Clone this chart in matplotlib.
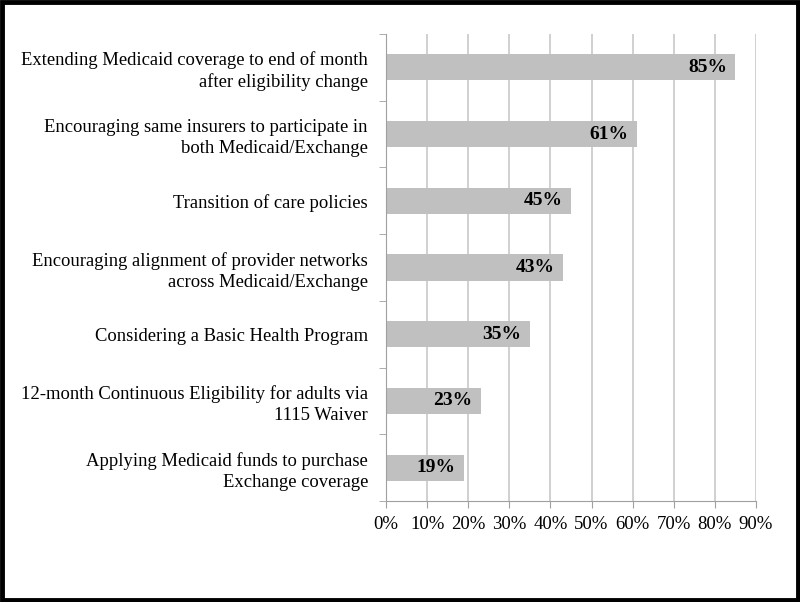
import matplotlib.pyplot as plt
import matplotlib.patches as mpatches
import numpy as np

labels = [
    "Extending Medicaid coverage to end of month\nafter eligibility change",
    "Encouraging same insurers to participate in\nboth Medicaid/Exchange",
    "Transition of care policies",
    "Encouraging alignment of provider networks\nacross Medicaid/Exchange",
    "Considering a Basic Health Program",
    "12-month Continuous Eligibility for adults via\n1115 Waiver",
    "Applying Medicaid funds to purchase\nExchange coverage",
]
values = [85, 61, 45, 43, 35, 23, 19]
xticks = [0, 10, 20, 30, 40, 50, 60, 70, 80, 90]

plt.rcParams['font.family'] = ['Liberation Serif', 'DejaVu Serif']

fig = plt.figure(figsize=(8, 6.02), dpi=100)
ax = fig.add_axes([0.4825, 0.1678, 0.4625, 0.7757])

ypos = np.arange(len(values))[::-1]
ax.barh(ypos, values, height=0.39, color='#c0c0c0', zorder=2)
for y, v in zip(ypos, values):
    ax.text(v - 2, y, f"{v}%", ha='right', va='center',
            fontsize=14, fontweight='bold', zorder=3)

ax.set_xlim(0, 90)
ax.set_ylim(-0.5, len(values) - 0.5)
ax.set_xticks(xticks)
ax.set_xticklabels([f"{t}%" for t in xticks], fontsize=13.5)
ax.set_yticks(ypos)
ax.set_yticklabels(labels, fontsize=13.4, linespacing=1.3)
ax.tick_params(axis='y', length=0, pad=13)
ax.set_yticks(np.arange(-0.5, len(values)), minor=True)
ax.tick_params(axis='y', which='minor', length=5, color='#a0a0a0')
ax.tick_params(axis='x', length=5, color='#a0a0a0', pad=6)
ax.grid(axis='x', color='#c8c8c8', linewidth=1.2, zorder=0)
ax.set_axisbelow(True)
for s in ['top', 'right']:
    ax.spines[s].set_visible(False)
ax.spines['left'].set_color('#a0a0a0')
ax.spines['bottom'].set_color('#a0a0a0')

# black frame round the picture
fig.patches.append(mpatches.Rectangle((0.002, 0.003), 0.995, 0.993, transform=fig.transFigure,
                                      fill=False, edgecolor='black', linewidth=3.5))

fig.savefig("out.png", dpi=100)
